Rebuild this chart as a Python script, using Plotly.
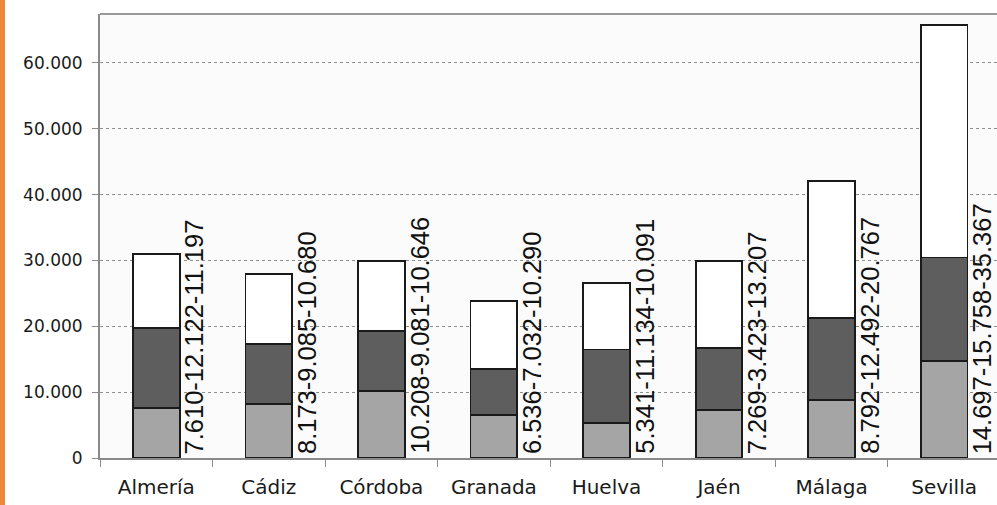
import plotly.graph_objects as go

provincias = ["Almería", "Cádiz", "Córdoba", "Granada", "Huelva", "Jaén", "Málaga", "Sevilla"]
serie_1 = [7610, 8173, 10208, 6536, 5341, 7269, 8792, 14697]
serie_2 = [12122, 9085, 9081, 7032, 11134, 9423, 12492, 15758]
serie_3 = [11197, 10680, 10646, 10290, 10091, 13207, 20767, 35367]
etiquetas = ["7.610-12.122-11.197", "8.173-9.085-10.680", "10.208-9.081-10.646",
             "6.536-7.032-10.290", "5.341-11.134-10.091", "7.269-3.423-13.207",
             "8.792-12.492-20.767", "14.697-15.758-35.367"]
y_ticks = [0, 10000, 20000, 30000, 40000, 50000, 60000]

fig = go.Figure()
for vals, col in [(serie_1, "#a5a5a5"), (serie_2, "#5e5e5e"), (serie_3, "#ffffff")]:
    fig.add_trace(go.Bar(
        x=provincias, y=vals, width=0.415,
        marker=dict(color=col, line=dict(color="#1a1a1a", width=1.8)),
        showlegend=False, hoverinfo="skip"))

for i, txt in enumerate(etiquetas):
    fig.add_annotation(
        x=i + 0.335, y=0, xref="x", yref="y", text=txt, textangle=-90,
        showarrow=False, xanchor="center", yanchor="bottom", yshift=2,
        font=dict(family="Liberation Sans", size=25.5, color="#111111"))

W, H = 997, 505
ml, mr, mt, mb = 100, 0, 14, 47
pw, ph = W - ml - mr, H - mt - mb
fig.add_shape(type="rect", xref="paper", yref="paper",
              x0=-ml / pw, x1=-(ml - 5) / pw, y0=-mb / ph, y1=1 + mt / ph,
              fillcolor="#f0883a", line=dict(width=0), layer="above")
fig.add_shape(type="line", xref="paper", yref="paper", x0=0, x1=1, y0=1, y1=1,
              line=dict(color="#9a9a9a", width=2))

fig.update_layout(
    width=W, height=H, margin=dict(l=ml, r=mr, t=mt, b=mb),
    barmode="stack", bargap=0.585,
    paper_bgcolor="#ffffff", plot_bgcolor="#fbfbfb",
    separators=",.",
    xaxis=dict(type="category", range=[-0.5, 7.47], showgrid=False,
               showline=True, linecolor="#8a8a8a", linewidth=2,
               ticks="outside", tickson="boundaries", ticklen=7, tickcolor="#8a8a8a",
               ticklabelstandoff=10,
               tickfont=dict(family="DejaVu Sans", size=20, color="#1a1a1a")),
    yaxis=dict(range=[0, 67440], tickvals=y_ticks, tickformat=",d",
               showgrid=True, gridcolor="#8f8f8f", griddash="dot", gridwidth=1,
               showline=True, linecolor="#8a8a8a", linewidth=2,
               ticks="outside", ticklen=6, tickcolor="#8a8a8a",
               zeroline=False, ticklabelstandoff=6,
               tickfont=dict(family="DejaVu Sans", size=17, color="#1a1a1a")),
)

fig.write_html("out.html", config={"displayModeBar": False},
               post_script="document.body.style.margin='0';")
